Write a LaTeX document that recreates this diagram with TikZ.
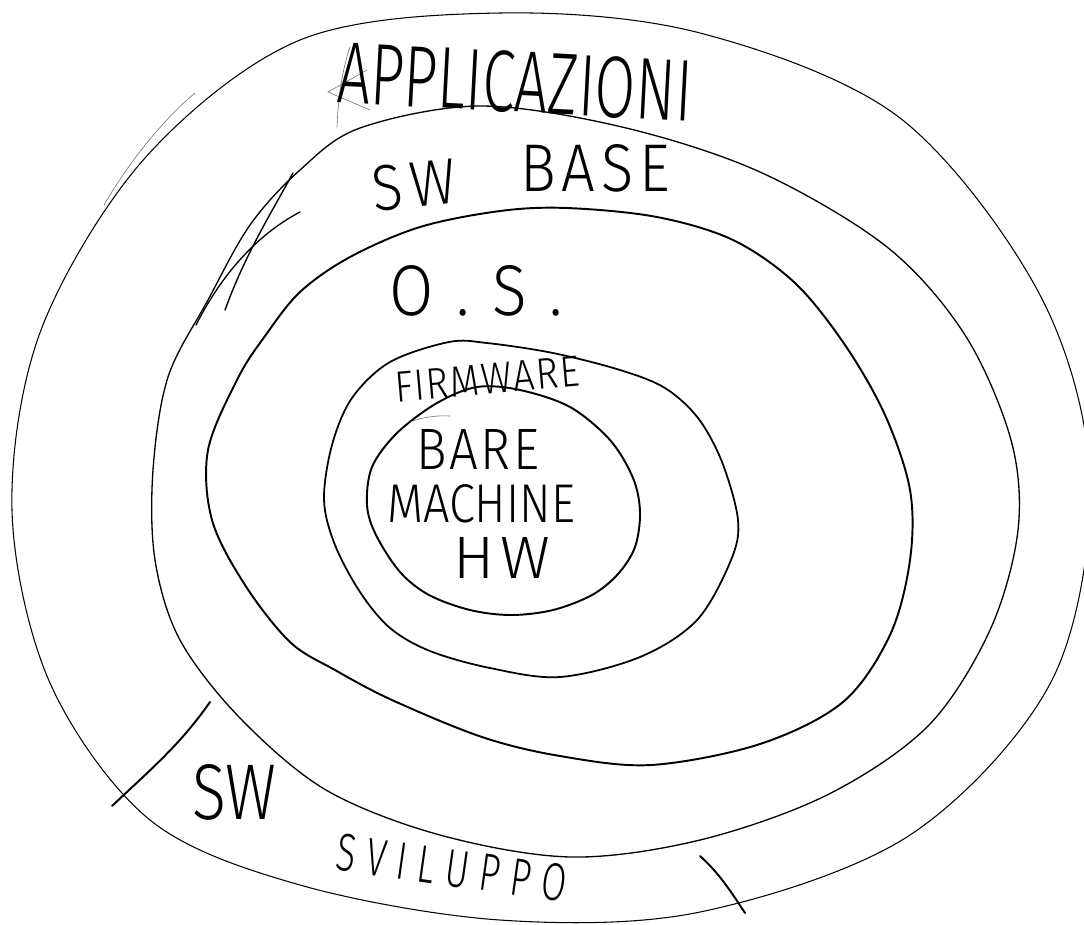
\documentclass[tikz,border=0pt]{standalone}
\usepackage{fontspec}
\usepackage{graphicx}
\IfFontExistsTF{Fira Sans Light}{\newfontfamily\hand{Fira Sans Light}}{\newfontfamily\hand{Fira Sans}}
\tikzset{
  ring/.style={draw=black, line cap=round, line join=round},
  hw/.style={inner sep=0pt, outer sep=0pt, font=\hand},
  tickstroke/.style={draw=black, line width=1.1pt, line cap=round},
  faint/.style={draw=black!55, line width=0.35pt, line cap=round},
}
\begin{document}
\begin{tikzpicture}[x=0.02cm,y=-0.02cm]
\useasboundingbox (0,0) rectangle (1084,924);
\fill[white] (0,0) rectangle (1084,924);

% outer ring (APPLICAZIONI / SW SVILUPPO)
\draw[ring, line width=0.6pt] plot[smooth cycle, tension=0.55] coordinates {
 (500,13) (700,33) (900,118) (1040,295) (1090,480) (1052,680) (910,835) (700,912)
 (500,920) (300,885) (150,820) (50,683) (12,510) (41,330) (145,158) (300,40)};

% second ring (SW BASE)
\draw[ring, line width=0.75pt] plot[smooth cycle, tension=0.55] coordinates {
 (480,106) (622,127) (760,172) (887,247) (965,335) (1011,440) (1018,530) (990,630)
 (928,726) (827,795) (700,840) (571,857) (440,835) (326,790) (240,718) (180,640)
 (155,560) (153,470) (168,377) (208,300) (250,225) (300,170) (360,128)};

% third ring (O.S.)
\draw[ring, line width=1.1pt] plot[smooth cycle, tension=0.55] coordinates {
 (500,211) (567,208) (657,217) (733,240) (795,283) (845,345) (885,415) (910,490)
 (910,560) (890,635) (843,702) (760,744) (651,765) (560,756) (482,737) (392,700)
 (335,670) (290,642) (245,585) (212,520) (208,450) (238,378) (265,336) (300,292)
 (350,257) (420,227)};

% firmware ring
\draw[ring, line width=1.0pt] plot[smooth cycle, tension=0.55] coordinates {
 (449,342) (487,343) (553,353) (620,370) (665,388) (698,418) (722,462) (738,520)
 (731,560) (697,620) (640,657) (560,677) (490,668) (430,651) (390,628) (360,592)
 (335,545) (324,500) (332,445) (352,398) (390,362)};

% inner (bare machine)
\draw[ring, line width=1.1pt] plot[smooth cycle, tension=0.55] coordinates {
 (477,387) (520,390) (570,407) (610,440) (633,478) (640,512) (635,547) (618,574)
 (592,595) (553,610) (511,615) (470,610) (429,595) (400,572) (376,535) (367,505)
 (372,467) (397,433) (437,403)};

% stray strokes
\coordinate (s1a) at (104,205); \coordinate (s1b) at (195,93);
\draw[faint] (s1a) .. controls (130,160) and (165,118) .. (s1b);
\coordinate (s2a) at (300,212); \coordinate (s2b) at (196,325);
\draw[ring, line width=0.75pt] (s2a) .. controls (262,232) and (225,268) .. (s2b);
\coordinate (s3a) at (225,310); \coordinate (s3b) at (293,173);
\draw[ring, line width=0.8pt] (s3a) .. controls (245,255) and (270,215) .. (s3b);
\coordinate (s4a) at (410,422); \coordinate (s4b) at (450,416);
\draw[faint] (s4a) .. controls (420,418) and (435,415) .. (s4b);
\coordinate (m1a) at (210,702); \coordinate (m1b) at (112,806);
\draw[tickstroke] (m1a) .. controls (180,745) and (150,770) .. (m1b);
\coordinate (m2a) at (700,856); \coordinate (m2b) at (745,913);
\draw[tickstroke] (m2a) .. controls (718,872) and (730,890) .. (m2b);
% scribble over the first A
\coordinate (a1) at (367,70); \coordinate (a2) at (328,92); \coordinate (a3) at (370,110);
\draw[faint] (a1) -- (a2) -- (a3);
\coordinate (a4) at (337,127); \coordinate (a5) at (350,47);
\draw[faint] (a4) .. controls (338,100) and (342,70) .. (a5);

% labels
\node[hw, rotate=-3] (app) at (515,82) {\resizebox{7.1cm}{1.22cm}{APPLICAZIONI}};
\node[hw, rotate=6] (swb) at (414,185) {\resizebox{1.7cm}{0.9cm}{S\hspace{0.15em}W}};
\node[hw] (base) at (595,168) {\resizebox{3.0cm}{0.94cm}{B\hspace{0.1em}A\hspace{0.1em}S\hspace{0.1em}E}};
\node[hw] (os) at (476,291) {\resizebox{3.46cm}{1.0cm}{O\hspace{0.35em}.\hspace{0.35em}S\hspace{0.35em}.}};
\node[hw, rotate=5] (fw) at (487,379) {\resizebox{3.7cm}{0.6cm}{F\hspace{0.04em}I\hspace{0.04em}R\hspace{0.04em}M\hspace{0.04em}W\hspace{0.04em}A\hspace{0.04em}R\hspace{0.04em}E}};
\node[hw] (bare) at (478,449) {\resizebox{2.46cm}{0.8cm}{B\hspace{0.05em}A\hspace{0.05em}R\hspace{0.05em}E}};
\node[hw] (mach) at (481,504) {\resizebox{3.76cm}{0.76cm}{MACHINE}};
\node[hw] (hwl) at (502,558) {\resizebox{1.94cm}{0.82cm}{H\hspace{0.1em}W}};
\node[hw] (sws) at (234,792) {\resizebox{1.68cm}{1.1cm}{SW}};
\node[hw, rotate=-8] (svil) at (452,868) {\resizebox{4.64cm}{0.74cm}{S\hspace{0.3em}V\hspace{0.3em}I\hspace{0.3em}L\hspace{0.3em}U\hspace{0.3em}P\hspace{0.3em}P\hspace{0.3em}O}};
\end{tikzpicture}
\end{document}
